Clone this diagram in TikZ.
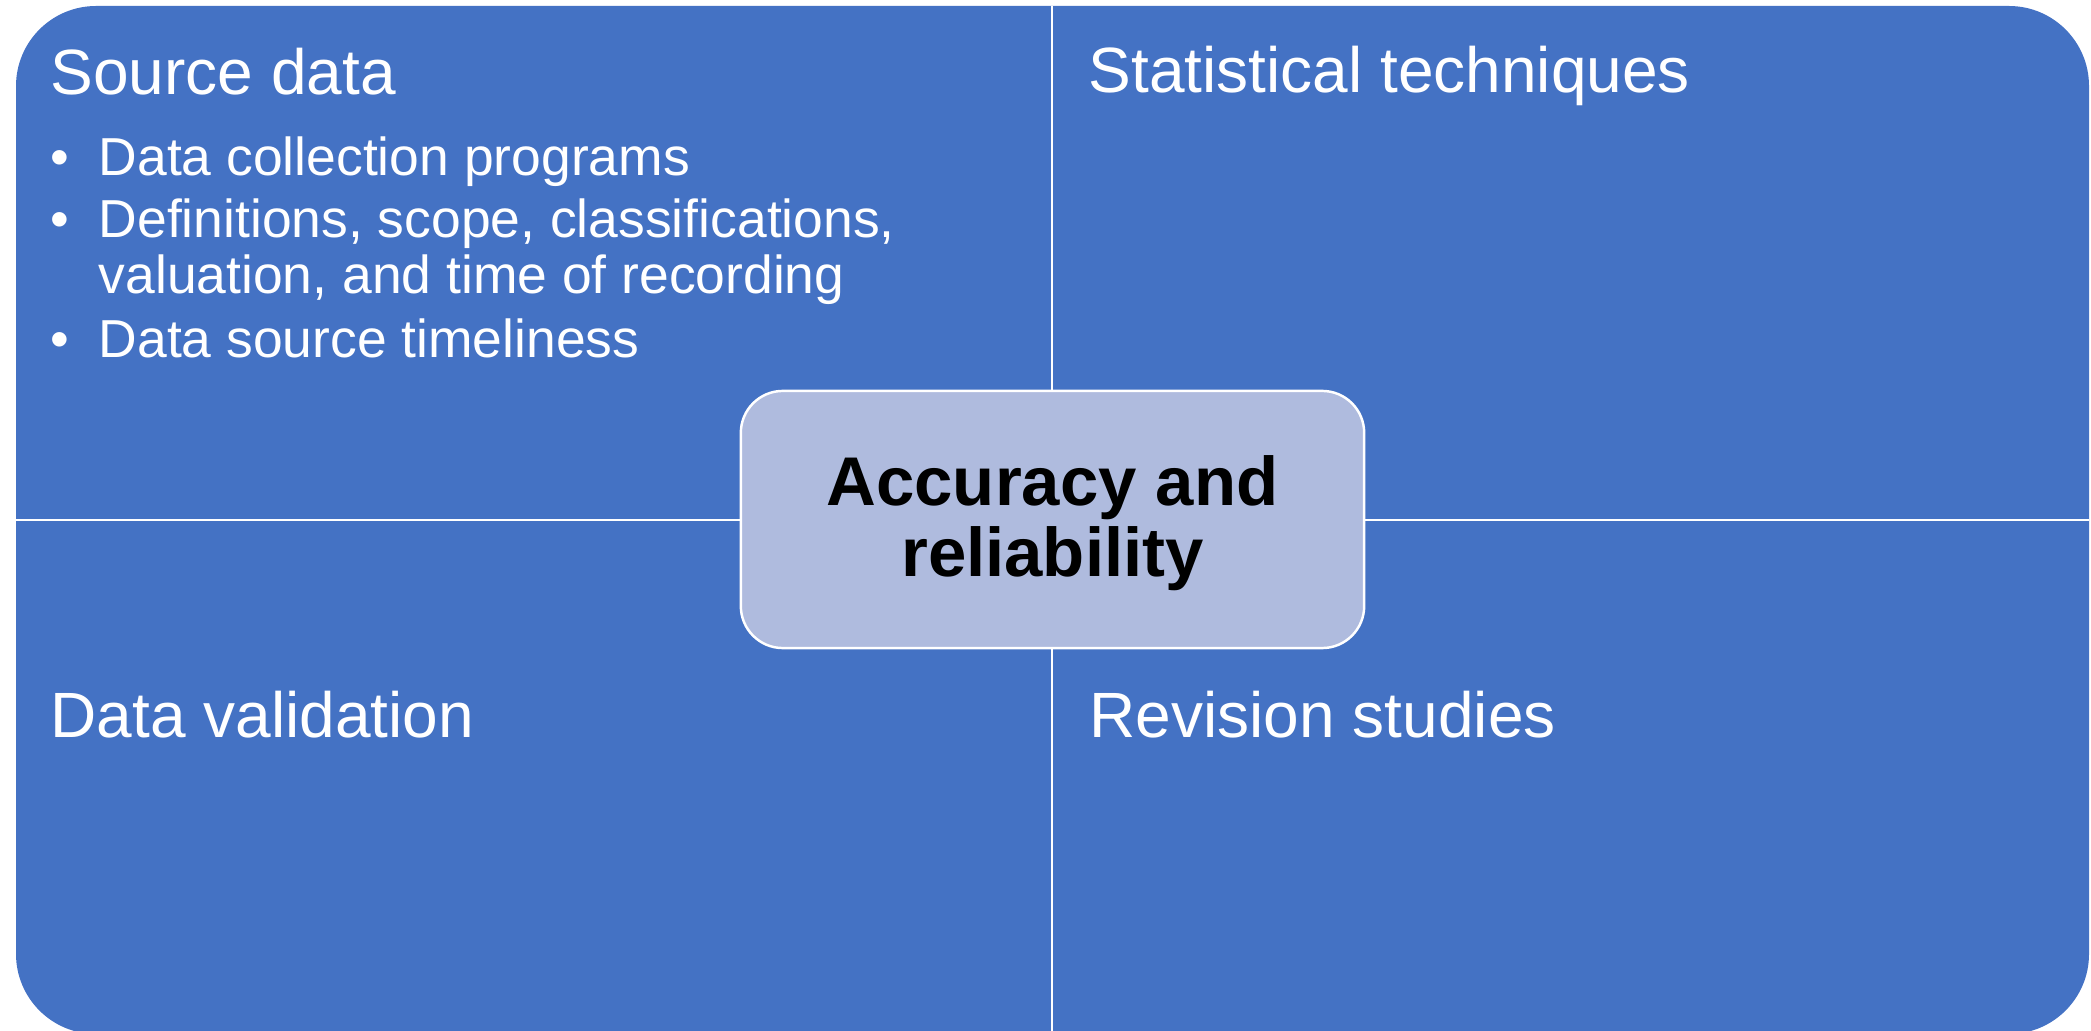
\documentclass[tikz,border=0pt]{standalone}
\usepackage{fontspec}
\setmainfont{Liberation Sans}
\definecolor{quadblue}{HTML}{4472C4}
\definecolor{hubfill}{HTML}{AFBBDE}
\tikzset{
    head/.style={anchor=base west,inner sep=0pt,text=white,font=\fontsize{18.2}{20}\selectfont},
    item/.style={anchor=base west,inner sep=0pt,text=white,font=\fontsize{15.2}{16}\selectfont},
    dot/.style={anchor=base,inner sep=0pt,text=white,font=\fontsize{15.2}{16}\selectfont},
    divider/.style={draw=white,line width=0.6pt},
    hub/.style={draw=white,line width=0.7pt,fill=hubfill,rounded corners=0.42cm,
        minimum width=6.23cm,minimum height=2.57cm,align=center,
        font=\fontsize{19.6}{20.2}\selectfont\bfseries}
}

\begin{document}
\begin{tikzpicture}[x=0.01cm,y=-0.01cm]
        \clip (0,0) rectangle (2091,1031);
        \fill[quadblue,rounded corners=0.8cm] (16,6) rectangle (2089,1034);
        \coordinate (T) at (1052,6);
        \coordinate (B) at (1052,1031);
        \coordinate (L) at (16,520);
        \coordinate (R) at (2089,520);
        \draw[divider] (T) -- (B);
        \draw[divider] (L) -- (R);
        \node[head] (source) at (50,95) {Source data};
        \node[head] (stat) at (1088,93) {Statistical techniques};
        \node[head] (valid) at (50,738) {Data validation};
        \node[head] (revis) at (1089,738) {Revision studies};
        \foreach \y in {176,238,358}
            \node[dot] (dot\y) at (60,\y) {\textbullet};
        \foreach \y/\txt in {176/Data collection programs,238/{Definitions, scope, classifications,},294/{valuation, and time of recording},358/Data source timeliness}
            \node[item] (line\y) at (98,\y) {\txt};
        \node[hub] (accuracy) at (1052.5,519.5) {\rule{0pt}{0.58cm}Accuracy and\\reliability};
    \end{tikzpicture}
\end{document}
